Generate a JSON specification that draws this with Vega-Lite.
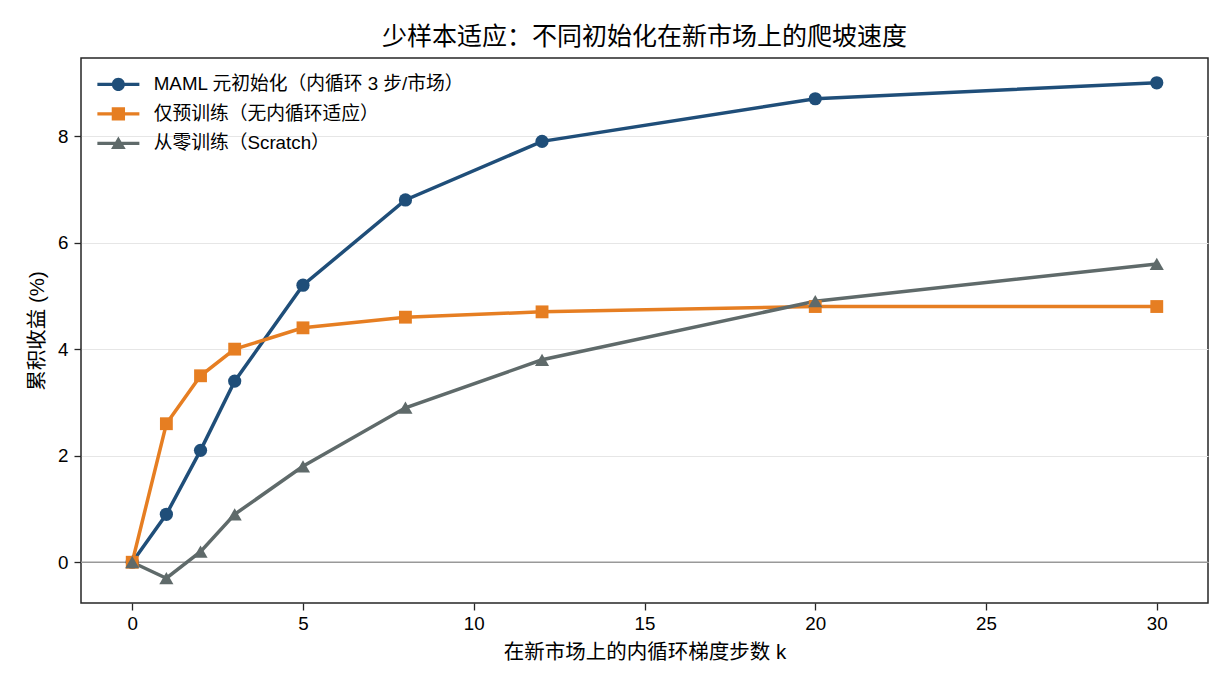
{
  "$schema": "https://vega.github.io/schema/vega-lite/v6.json",
  "width": 1127,
  "height": 545,
  "autosize": {"type": "none"},
  "padding": {"left": 81, "top": 58, "right": 22, "bottom": 87},
  "background": "white",
  "config": {
    "font": "Liberation Sans, Noto Sans CJK SC",
    "view": {"stroke": "#262626", "strokeWidth": 1.5},
    "axis": {
      "domain": false,
      "tickColor": "#262626",
      "tickSize": 7,
      "tickWidth": 1.3,
      "labelFont": "Liberation Sans, Noto Sans CJK SC",
      "labelFontSize": 18.75,
      "labelColor": "black",
      "titleFont": "Liberation Sans, Noto Sans CJK SC",
      "titleFontSize": 20.5,
      "titleFontWeight": "normal",
      "titleColor": "black"
    }
  },
  "title": {
    "text": "少样本适应：不同初始化在新市场上的爬坡速度",
    "font": "Liberation Sans, Noto Sans CJK SC",
    "fontSize": 25,
    "fontWeight": "normal",
    "color": "black",
    "anchor": "middle",
    "offset": 8
  },
  "datasets": {
    "curves": [
      {"series": "MAML 元初始化（内循环 3 步/市场）", "k": 0, "value": 0},
      {"series": "MAML 元初始化（内循环 3 步/市场）", "k": 1, "value": 0.9},
      {"series": "MAML 元初始化（内循环 3 步/市场）", "k": 2, "value": 2.1},
      {"series": "MAML 元初始化（内循环 3 步/市场）", "k": 3, "value": 3.4},
      {"series": "MAML 元初始化（内循环 3 步/市场）", "k": 5, "value": 5.2},
      {"series": "MAML 元初始化（内循环 3 步/市场）", "k": 8, "value": 6.8},
      {"series": "MAML 元初始化（内循环 3 步/市场）", "k": 12, "value": 7.9},
      {"series": "MAML 元初始化（内循环 3 步/市场）", "k": 20, "value": 8.7},
      {"series": "MAML 元初始化（内循环 3 步/市场）", "k": 30, "value": 9.0},
      {"series": "仅预训练（无内循环适应）", "k": 0, "value": 0},
      {"series": "仅预训练（无内循环适应）", "k": 1, "value": 2.6},
      {"series": "仅预训练（无内循环适应）", "k": 2, "value": 3.5},
      {"series": "仅预训练（无内循环适应）", "k": 3, "value": 4.0},
      {"series": "仅预训练（无内循环适应）", "k": 5, "value": 4.4},
      {"series": "仅预训练（无内循环适应）", "k": 8, "value": 4.6},
      {"series": "仅预训练（无内循环适应）", "k": 12, "value": 4.7},
      {"series": "仅预训练（无内循环适应）", "k": 20, "value": 4.8},
      {"series": "仅预训练（无内循环适应）", "k": 30, "value": 4.8},
      {"series": "从零训练（Scratch）", "k": 0, "value": 0},
      {"series": "从零训练（Scratch）", "k": 1, "value": -0.3},
      {"series": "从零训练（Scratch）", "k": 2, "value": 0.2},
      {"series": "从零训练（Scratch）", "k": 3, "value": 0.9},
      {"series": "从零训练（Scratch）", "k": 5, "value": 1.8},
      {"series": "从零训练（Scratch）", "k": 8, "value": 2.9},
      {"series": "从零训练（Scratch）", "k": 12, "value": 3.8},
      {"series": "从零训练（Scratch）", "k": 20, "value": 4.9},
      {"series": "从零训练（Scratch）", "k": 30, "value": 5.6}
    ],
    "zero": [{"y": 0}]
  },
  "encoding": {
    "x": {
      "field": "k",
      "type": "quantitative",
      "scale": {"domain": [-1.5, 31.5], "nice": false, "zero": false},
      "axis": {"values": [0, 5, 10, 15, 20, 25, 30], "title": "在新市场上的内循环梯度步数 k", "grid": false, "labelPadding": 4, "titlePadding": 10}
    },
    "y": {
      "field": "value",
      "type": "quantitative",
      "scale": {"domain": [-0.765, 9.465], "nice": false, "zero": false},
      "axis": {"values": [0, 2, 4, 6, 8], "title": "累积收益 (%)", "grid": true, "gridColor": "#e6e6e6", "gridWidth": 1, "labelPadding": 6, "titlePadding": 10}
    }
  },
  "layer": [
    {
      "data": {"name": "zero"},
      "mark": {"type": "rule", "color": "#999999", "strokeWidth": 1.5},
      "encoding": {"y": {"field": "y", "type": "quantitative"}, "x": null}
    },
    {
      "data": {"name": "curves"},
      "mark": {"type": "line", "strokeWidth": 3.5},
      "encoding": {
        "color": {
          "field": "series",
          "type": "nominal",
          "scale": {
            "domain": ["MAML 元初始化（内循环 3 步/市场）", "仅预训练（无内循环适应）", "从零训练（Scratch）"],
            "range": ["#1f4e79", "#e67e22", "#5f6a6a"]
          },
          "legend": {
            "title": null,
            "orient": "none",
            "legendX": 28,
            "legendY": 17,
            "padding": 0,
            "labelFont": "Liberation Sans, Noto Sans CJK SC",
            "labelFontSize": 18.75,
            "labelColor": "black",
            "labelLimit": 600,
            "labelOffset": 26,
            "rowPadding": 9.5,
            "symbolSize": 196,
            "encode": {
              "symbols": {
                "update": {
                  "shape": {"signal": "datum.value === 'MAML 元初始化（内循环 3 步/市场）' ? 'M-3,-0.22H3V0.22H-3Z M-0.93,0A0.93,0.93,0,1,1,0.93,0A0.93,0.93,0,1,1,-0.93,0Z' : datum.value === '仅预训练（无内循环适应）' ? 'M-3,-0.22H3V0.22H-3Z M-0.95,-0.95H0.95V0.95H-0.95Z' : 'M-3,-0.22H3V0.22H-3Z M0,-1L1.05,0.8L-1.05,0.8Z'"},
                  "fill": {"signal": "datum.value === 'MAML 元初始化（内循环 3 步/市场）' ? '#1f4e79' : datum.value === '仅预训练（无内循环适应）' ? '#e67e22' : '#5f6a6a'"},
                  "fillOpacity": {"value": 1},
                  "strokeWidth": {"value": 0}
                }
              }
            }
          }
        }
      }
    },
    {
      "data": {"name": "curves"},
      "transform": [{"filter": "datum.series === 'MAML 元初始化（内循环 3 步/市场）'"}],
      "mark": {"type": "point", "shape": "circle", "filled": true, "opacity": 1, "size": 175, "strokeWidth": 0, "color": "#1f4e79"}
    },
    {
      "data": {"name": "curves"},
      "transform": [{"filter": "datum.series === '仅预训练（无内循环适应）'"}],
      "mark": {"type": "point", "shape": "square", "filled": true, "opacity": 1, "size": 165, "strokeWidth": 0, "color": "#e67e22"}
    },
    {
      "data": {"name": "curves"},
      "transform": [{"filter": "datum.series === '从零训练（Scratch）'"}],
      "mark": {"type": "point", "shape": "triangle-up", "filled": true, "opacity": 1, "size": 200, "strokeWidth": 0, "color": "#5f6a6a"}
    }
  ]
}
